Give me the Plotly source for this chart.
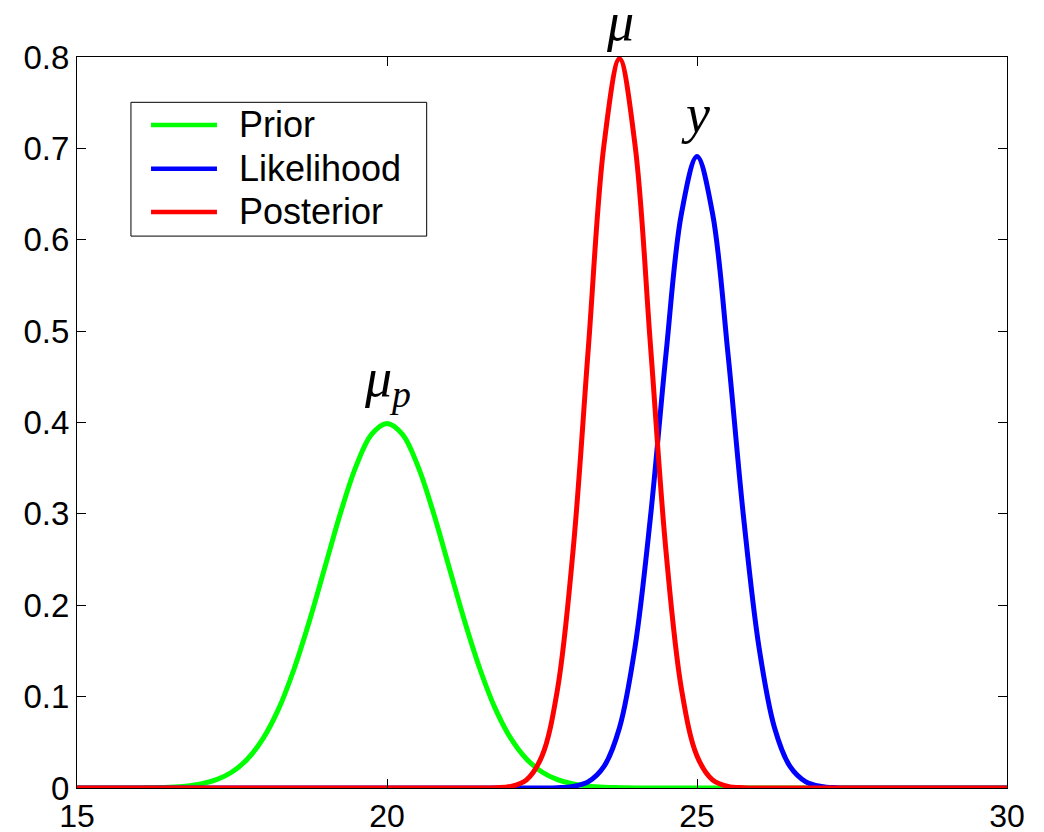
import plotly.graph_objects as go

# x grid (0.25 step from 15 to 30)
x_vals = [15 + 0.25 * i for i in range(61)]

prior = [0, 0, 0, 0, 0.0001, 0.0004, 0.0009, 0.0020, 0.0044, 0.0091,
         0.0175, 0.0317, 0.054, 0.0863, 0.130, 0.183, 0.242, 0.301, 0.352, 0.387,
         0.399,
         0.387, 0.352, 0.301, 0.242, 0.183, 0.130, 0.0863, 0.054, 0.0317, 0.0175,
         0.0091, 0.0044, 0.0020, 0.0009, 0.0004, 0.0001, 0, 0, 0, 0,
         0, 0, 0, 0, 0, 0, 0, 0, 0, 0,
         0, 0, 0, 0, 0, 0, 0, 0, 0, 0]

likelihood = ([0] * 31 +
              [0.0003, 0.0017, 0.0070, 0.0236, 0.066, 0.154, 0.297, 0.475, 0.629,
               0.691,
               0.629, 0.475, 0.297, 0.154, 0.066, 0.0236, 0.0070, 0.0017, 0.0003] +
              [0] * 11)

posterior = ([0] * 27 +
             [0.0003, 0.0017, 0.0089, 0.035, 0.108, 0.259, 0.484, 0.704,
              0.798,
              0.704, 0.484, 0.259, 0.108, 0.035, 0.0089, 0.0017, 0.0003] +
             [0] * 17)

series_names = ["Prior", "Likelihood", "Posterior"]
series_colors = ["#00ff00", "#0000ff", "#ff0000"]
series_values = [prior, likelihood, posterior]

x_ticks = [15, 20, 25, 30]
y_ticks = [0, 0.1, 0.2, 0.3, 0.4, 0.5, 0.6, 0.7, 0.8]
y_tick_labels = ["0", "0.1", "0.2", "0.3", "0.4", "0.5", "0.6", "0.7", "0.8"]

fig = go.Figure()
for name, color, vals in zip(series_names, series_colors, series_values):
    fig.add_trace(go.Scatter(x=x_vals, y=vals, mode="lines", name=name,
                             line=dict(color=color, width=5, shape="spline", smoothing=1.0),
                             showlegend=False, cliponaxis=False))

sans = "Arial, Liberation Sans, sans-serif"
axis_common = dict(showline=True, linecolor="black", linewidth=1, mirror="ticks",
                   ticks="inside", ticklen=9, tickcolor="black", showgrid=False,
                   zeroline=False, automargin=False)

fig.update_layout(
    width=1044, height=832,
    margin=dict(l=77, r=37, t=57, b=44),
    paper_bgcolor="white", plot_bgcolor="white",
    xaxis=dict(range=[15, 30], tickvals=x_ticks, ticktext=[str(t) for t in x_ticks],
               tickfont=dict(family=sans, size=32, color="black"), **axis_common),
    yaxis=dict(range=[0, 0.8], tickvals=y_ticks, ticktext=y_tick_labels,
               tickfont=dict(family=sans, size=33, color="black"), **axis_common),
    showlegend=False,
)

# manual legend box
lx0, lx1, ly0, ly1 = 0.058, 0.376, 0.755, 0.938
fig.add_shape(type="rect", xref="paper", yref="paper", x0=lx0, x1=lx1, y0=ly0, y1=ly1,
              line=dict(color="black", width=1), fillcolor="white", layer="above")
row_y = [0.907, 0.847, 0.788]
for name, color, ry in zip(series_names, series_colors, row_y):
    fig.add_shape(type="line", xref="paper", yref="paper", x0=0.0796, x1=0.1505, y0=ry, y1=ry,
                  line=dict(color=color, width=4.5), layer="above")
    fig.add_annotation(xref="paper", yref="paper", x=0.172, y=ry, text=name, showarrow=False,
                       xanchor="left", yanchor="middle",
                       font=dict(family=sans, size=36, color="black"))

# labels over peaks
serif = "Times New Roman, Liberation Serif, serif"
fig.add_annotation(x=23.75, xref="x", y=1.048, yref="paper", text="<i>μ</i>", showarrow=False,
                   xanchor="center", yanchor="middle",
                   font=dict(family=serif, size=54, color="black"))
fig.add_annotation(x=24.97, y=0.738, text="<i>y</i>", showarrow=False,
                   xanchor="center", yanchor="middle",
                   font=dict(family=serif, size=54, color="black"))
fig.add_annotation(x=20.0, y=0.445, text="<i>μ<sub>p</sub></i>", showarrow=False,
                   xanchor="center", yanchor="middle",
                   font=dict(family=serif, size=54, color="black"))

fig.write_html("out.html")
